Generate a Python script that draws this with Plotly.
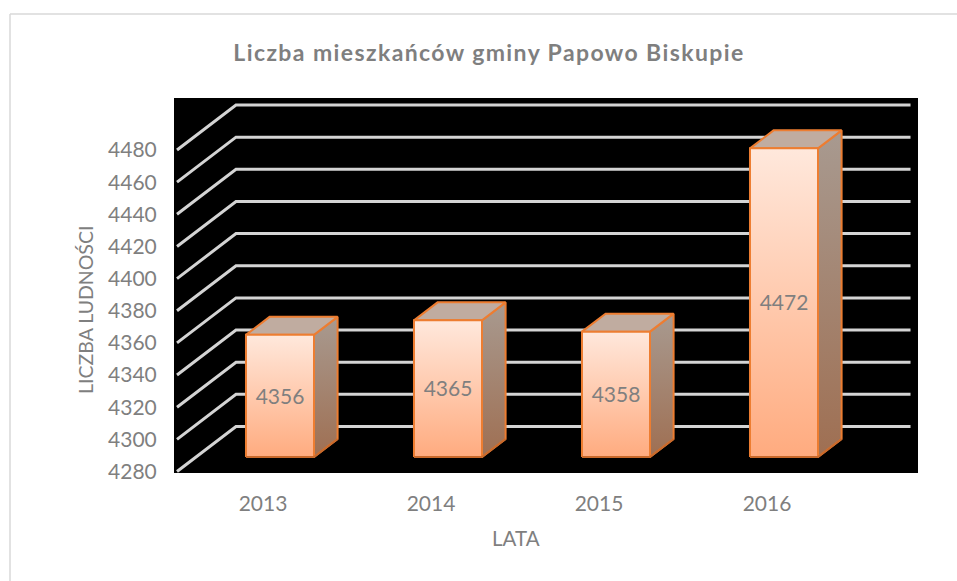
import plotly.graph_objects as go

years = ["2013", "2014", "2015", "2016"]
population = [4356, 4365, 4358, 4472]
y_ticks = [4280, 4300, 4320, 4340, 4360, 4380, 4400, 4420, 4440, 4460, 4480]
title_text = "Liczba mieszkańców gminy Papowo Biskupie"
x_title = "LATA"
y_title = "LICZBA LUDNOŚCI"

FONT = "Lato"
GREY = "#7f7f7f"
ORANGE = "#ed7d31"
DARK = "#c8692b"

# plot rectangle in pixels
L, R, T, B = 174, 918, 98, 473
W, H = 957, 581
# pseudo-3D projection, in axis units
DX = 59 / 168      # category units for the full floor depth
DY = 45 / 1.6075   # value units for the full floor depth
HALF = 0.2024      # half bar width
D0, D1 = 0.322, 0.722   # depth of bar front / back
BASE = y_ticks[0]


def proj(x, v, d):
    return x + d * DX, v + d * DY


def poly(pts):
    xs = [p[0] for p in pts] + [pts[0][0]]
    ys = [p[1] for p in pts] + [pts[0][1]]
    return xs, ys


fig = go.Figure()

# grid: floor diagonal then back wall
x_start, x_end = -0.5, 3.5 + 0.015
for v in y_ticks:
    a = proj(x_start, v, 0)
    b = proj(x_start, v, 1)
    c = proj(x_end, v, 1)
    fig.add_trace(go.Scatter(x=[a[0], b[0], c[0]], y=[a[1], b[1], c[1]], mode="lines",
                             line=dict(color="#d4d4d4", width=3),
                             hoverinfo="skip", showlegend=False))

FRONT_SCALE = [[0, "#ffab7f"], [1, "#ffe8dc"]]
SIDE_SCALE = [[0, "#9f6f52"], [1, "#a89a90"]]

for i, (yr, val) in enumerate(zip(years, population)):
    xl, xr = i - HALF, i + HALF
    fbl, fbr = proj(xl, BASE, D0), proj(xr, BASE, D0)
    ftl, ftr = proj(xl, val, D0), proj(xr, val, D0)
    bbr = proj(xr, BASE, D1)
    btl, btr = proj(xl, val, D1), proj(xr, val, D1)

    xs, ys = poly([fbr, bbr, btr, ftr])
    fig.add_trace(go.Scatter(x=xs, y=ys, mode="lines", fill="toself",
                             fillgradient=dict(type="vertical", colorscale=SIDE_SCALE),
                             line=dict(color=ORANGE, width=2), hoverinfo="skip", showlegend=False))
    xs, ys = poly([ftl, ftr, btr, btl])
    fig.add_trace(go.Scatter(x=xs, y=ys, mode="lines", fill="toself", fillcolor="#c0aca0",
                             line=dict(color=ORANGE, width=2), hoverinfo="skip", showlegend=False))
    xs, ys = poly([fbl, fbr, ftr, ftl])
    fig.add_trace(go.Scatter(x=xs, y=ys, mode="lines", fill="toself",
                             fillgradient=dict(type="vertical", colorscale=FRONT_SCALE),
                             line=dict(color=ORANGE, width=2), hoverinfo="skip", showlegend=False))
    fig.add_trace(go.Scatter(x=[fbl[0], fbr[0], bbr[0]], y=[fbl[1], fbr[1], bbr[1]], mode="lines",
                             line=dict(color=DARK, width=2), hoverinfo="skip", showlegend=False))
    cx, cy = proj(i, (BASE + val) / 2 - 1.5, D0)
    fig.add_trace(go.Scatter(x=[cx], y=[cy], mode="text", text=[str(val)],
                             textposition="middle center",
                             textfont=dict(family=FONT, size=21, color=GREY),
                             hoverinfo="skip", showlegend=False))

# axis ranges chosen so one value unit = 1.6075 px and one category = 168 px
x_range = [(L - 261) / 168, (R - 261) / 168]
y_range = [BASE - (B - 471.5) / 1.6075, BASE + (471.5 - T) / 1.6075]


def px(x):
    return (x - L) / (R - L)


def py(y):
    return (B - y) / (B - T)


border = [
    dict(type="line", xref="paper", yref="paper", x0=px(10), x1=px(W), y0=py(14), y1=py(14)),
    dict(type="line", xref="paper", yref="paper", x0=px(10), x1=px(10), y0=py(14), y1=py(H)),
]
for s in border:
    s["line"] = dict(color="#d9d9d9", width=1.5)
    s["layer"] = "below"

axis_titles = [
    dict(text=x_title, x=px(516), y=py(538), textangle=0, size=20.5),
    dict(text=y_title, x=px(85), y=py(310), textangle=-90, size=19.5),
]
for a in axis_titles:
    a.update(xref="paper", yref="paper", showarrow=False, xanchor="center", yanchor="middle",
             font=dict(family=FONT, size=a.pop("size"), color=GREY))

fig.update_layout(
    width=W, height=H,
    margin=dict(l=L, r=W - R, t=T, b=H - B, pad=0, autoexpand=False),
    paper_bgcolor="white", plot_bgcolor="black",
    showlegend=False,
    shapes=border,
    annotations=axis_titles,
    title=dict(text=title_text, x=489 / W, xanchor="center", y=1 - 53 / H, yanchor="middle",
               font=dict(family=FONT, size=23, color=GREY, weight="bold")),
    xaxis=dict(range=x_range, tickmode="array", tickvals=list(range(len(years))), ticktext=years,
               showgrid=False, zeroline=False, showline=False,
               ticks="outside", ticklen=12, tickcolor="rgba(0,0,0,0)", ticklabelshift=2,
               tickfont=dict(family=FONT, size=21, color=GREY)),
    yaxis=dict(range=y_range, tickmode="array", tickvals=y_ticks, ticktext=[str(t) for t in y_ticks],
               showgrid=False, zeroline=False, showline=False,
               ticks="outside", ticklen=12, tickcolor="rgba(0,0,0,0)",
               tickfont=dict(family=FONT, size=21, color=GREY)),
)

fig.write_html("out.html", config={"displayModeBar": False},
               post_script="document.body.style.margin='0';document.documentElement.style.overflow='hidden';"
                           "var t=document.querySelector('.gtitle');if(t){t.style.letterSpacing='1.4px';}")
